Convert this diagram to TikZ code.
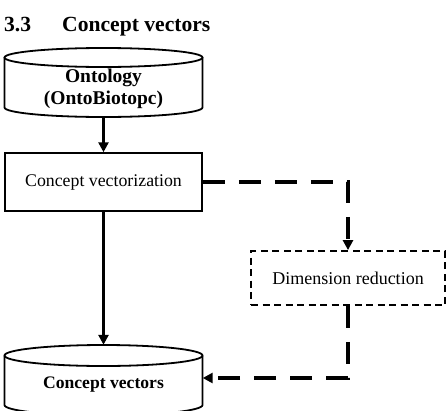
\documentclass[tikz,border=0pt]{standalone}
\usepackage{fontspec}
\setmainfont{Liberation Serif}
\usetikzlibrary{positioning,arrows.meta}

\begin{document}
\begin{tikzpicture}[x=1pt,y=1pt,>={Triangle[length=10pt,width=10pt]},
        stepbox/.style={draw,line width=1.5pt,minimum width=197pt,minimum height=58pt,inner sep=0pt,font=\fontsize{17.8}{20}\selectfont},
        dimbox/.style={draw,line width=1.8pt,dash pattern=on 7pt off 4.5pt,minimum width=194pt,minimum height=54pt,inner sep=0pt,font=\fontsize{18}{20}\selectfont},
        cylbody/.style={minimum width=198pt,inner sep=0pt},
        cylline/.style={line width=1.8pt},
        cyltext/.style={align=center,inner sep=0pt,font=\bfseries\fontsize{19.5}{22}\selectfont},
        flow/.style={->,line width=3pt},
        dflow/.style={->,line width=3.5pt,dash pattern=on 22pt off 14pt}]
        \useasboundingbox (0,0) rectangle (447,-410);
        \node[anchor=base west,inner sep=0pt,font=\bfseries\fontsize{21.6}{24}\selectfont] (title) at (4,-31) {3.3\hspace{31pt}Concept vectors};
        % ontology store
        \node[cylbody,minimum height=69pt] (onto) at (103.5,-82.5) {};
        \draw[cylline] (4.5,-57.5) -- (4.5,-107.5) arc[start angle=180,end angle=360,x radius=99,y radius=9.5] -- (202.5,-57.5);
        \draw[cylline] (103.5,-57.5) ellipse[x radius=99,y radius=9.5];
        \node[cyltext] (ontolabel) at (103.5,-89) {Ontology\\(OntoBiotopc)};
        \node[stepbox] (vect) at (103.5,-182) {Concept vectorization};
        \node[dimbox] (dimred) at (348,-278) {Dimension reduction};
        % vector store
        \node[cylbody,minimum height=66pt] (cvec) at (103.5,-378) {};
        \draw[cylline] (4.5,-355.5) -- (4.5,-405) arc[start angle=180,end angle=360,x radius=99,y radius=10.5] -- (202.5,-355.5);
        \draw[cylline] (103.5,-355.5) ellipse[x radius=99,y radius=10.5];
        \node[cyltext,font=\bfseries\fontsize{17.6}{20}\selectfont] (cveclabel) at (103.5,-385) {Concept vectors};
        \draw[flow] (onto) -- (vect);
        \draw[flow] (vect) -- (cvec);
        \draw[dflow] (vect.east) -| (dimred.north);
        \draw[dflow] (dimred.south) |- (cvec.east);
    \end{tikzpicture}
\end{document}
